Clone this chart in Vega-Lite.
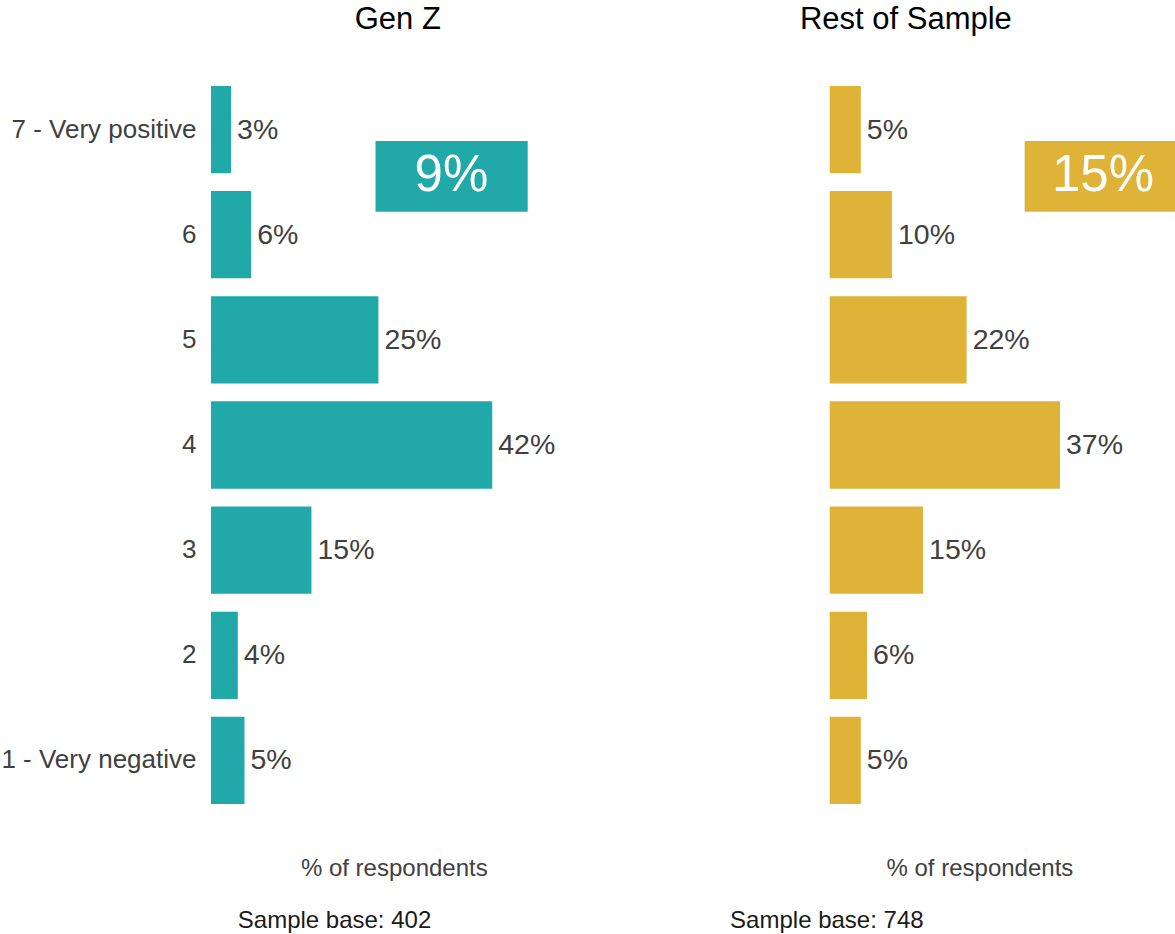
{
  "$schema": "https://vega.github.io/schema/vega-lite/v6.json",
  "padding": {"top": 4, "left": 0, "right": 0, "bottom": 0},
  "bounds": "flush",
  "spacing": 252.7,
  "config": {
    "view": {"stroke": null},
    "font": "Liberation Sans",
    "title": {"fontSize": 31, "fontWeight": "normal", "color": "#000000", "offset": 41, "anchor": "middle"}
  },
  "datasets": {
    "genz": [
      {"rating": "7 - Very positive", "pct": 3, "label": "3%"},
      {"rating": "6", "pct": 6, "label": "6%"},
      {"rating": "5", "pct": 25, "label": "25%"},
      {"rating": "4", "pct": 42, "label": "42%"},
      {"rating": "3", "pct": 15, "label": "15%"},
      {"rating": "2", "pct": 4, "label": "4%"},
      {"rating": "1 - Very negative", "pct": 5, "label": "5%"}
    ],
    "rest": [
      {"rating": "7 - Very positive", "pct": 5, "label": "5%"},
      {"rating": "6", "pct": 10, "label": "10%"},
      {"rating": "5", "pct": 22, "label": "22%"},
      {"rating": "4", "pct": 37, "label": "37%"},
      {"rating": "3", "pct": 15, "label": "15%"},
      {"rating": "2", "pct": 6, "label": "6%"},
      {"rating": "1 - Very negative", "pct": 5, "label": "5%"}
    ],
    "genzSummary": [{"top2": "9%", "base": "Sample base: 402"}],
    "restSummary": [{"top2": "15%", "base": "Sample base: 748"}]
  },
  "hconcat": [
    {
      "width": 365.6,
      "height": 736,
      "title": {"text": "Gen Z", "dx": 4},
      "layer": [
        {
          "data": {"name": "genz"},
          "encoding": {
            "y": {"field": "rating", "type": "ordinal", "sort": null,
                  "scale": {"paddingInner": 0.17, "paddingOuter": 0.085},
                  "axis": {"title": null, "ticks": false, "domain": false, "labelFontSize": 26, "labelColor": "#404040", "labelPadding": 15, "labelLimit": 0}},
            "x": {"field": "pct", "type": "quantitative", "scale": {"domain": [0, 54.6]},
                  "axis": {"title": "% of respondents", "labels": false, "ticks": false, "domain": false, "grid": false,
                           "titleFontSize": 24, "titleFontWeight": "normal", "titleColor": "#404040", "titlePadding": 43}}
          },
          "layer": [
            {"mark": {"type": "bar", "color": "#21A9A9"}},
            {"mark": {"type": "text", "align": "left", "baseline": "middle", "dx": 6, "fontSize": 28.5, "color": "#404040"},
             "encoding": {"text": {"field": "label"}}}
          ]
        },
        {
          "data": {"name": "genzSummary"},
          "layer": [
            {"mark": {"type": "rect", "color": "#21A9A9"},
             "encoding": {
               "x": {"datum": 24.57, "type": "quantitative", "scale": {"domain": [0, 54.6]}},
               "x2": {"datum": 47.3},
               "y": {"datum": 6.391, "type": "quantitative", "scale": {"domain": [0, 7]}, "axis": null},
               "y2": {"datum": 5.719}
             }},
            {"mark": {"type": "text", "align": "center", "baseline": "middle", "fontSize": 51, "color": "#FFFFFF"},
             "encoding": {
               "x": {"datum": 35.9, "type": "quantitative", "scale": {"domain": [0, 54.6]}},
               "y": {"datum": 6.055, "type": "quantitative", "scale": {"domain": [0, 7]}, "axis": null},
               "text": {"field": "top2"}
             }},
            {"mark": {"type": "text", "align": "left", "baseline": "alphabetic", "fontSize": 24, "color": "#1A1A1A"},
             "encoding": {
               "x": {"datum": 4.0, "type": "quantitative", "scale": {"domain": [0, 54.6]}},
               "y": {"datum": -1.097, "type": "quantitative", "scale": {"domain": [0, 7]}, "axis": null},
               "text": {"field": "base"}
             }}
          ]
        }
      ],
      "resolve": {"scale": {"y": "independent"}}
    },
    {
      "width": 299.4,
      "height": 736,
      "title": {"text": "Rest of Sample", "dx": -73.5},
      "layer": [
        {
          "data": {"name": "rest"},
          "encoding": {
            "y": {"field": "rating", "type": "ordinal", "sort": null,
                  "scale": {"paddingInner": 0.17, "paddingOuter": 0.085},
                  "axis": null},
            "x": {"field": "pct", "type": "quantitative", "scale": {"domain": [0, 48.1]},
                  "axis": {"title": "% of respondents", "labels": false, "ticks": false, "domain": false, "grid": false,
                           "titleFontSize": 24, "titleFontWeight": "normal", "titleColor": "#404040", "titlePadding": 43}}
          },
          "layer": [
            {"mark": {"type": "bar", "color": "#DEB337"}},
            {"mark": {"type": "text", "align": "left", "baseline": "middle", "dx": 6, "fontSize": 28.5, "color": "#404040"},
             "encoding": {"text": {"field": "label"}}}
          ]
        },
        {
          "data": {"name": "restSummary"},
          "layer": [
            {"mark": {"type": "rect", "color": "#DEB337", "clip": false},
             "encoding": {
               "x": {"datum": 31.32, "type": "quantitative", "scale": {"domain": [0, 48.1]}},
               "x2": {"datum": 55.6},
               "y": {"datum": 6.391, "type": "quantitative", "scale": {"domain": [0, 7]}, "axis": null},
               "y2": {"datum": 5.719}
             }},
            {"mark": {"type": "text", "align": "center", "baseline": "middle", "fontSize": 51, "color": "#FFFFFF"},
             "encoding": {
               "x": {"datum": 43.9, "type": "quantitative", "scale": {"domain": [0, 48.1]}},
               "y": {"datum": 6.055, "type": "quantitative", "scale": {"domain": [0, 7]}, "axis": null},
               "text": {"field": "top2"}
             }},
            {"mark": {"type": "text", "align": "left", "baseline": "alphabetic", "fontSize": 24, "color": "#1A1A1A"},
             "encoding": {
               "x": {"datum": -16.0, "type": "quantitative", "scale": {"domain": [0, 48.1]}},
               "y": {"datum": -1.097, "type": "quantitative", "scale": {"domain": [0, 7]}, "axis": null},
               "text": {"field": "base"}
             }}
          ]
        }
      ],
      "resolve": {"scale": {"y": "independent"}}
    }
  ]
}
